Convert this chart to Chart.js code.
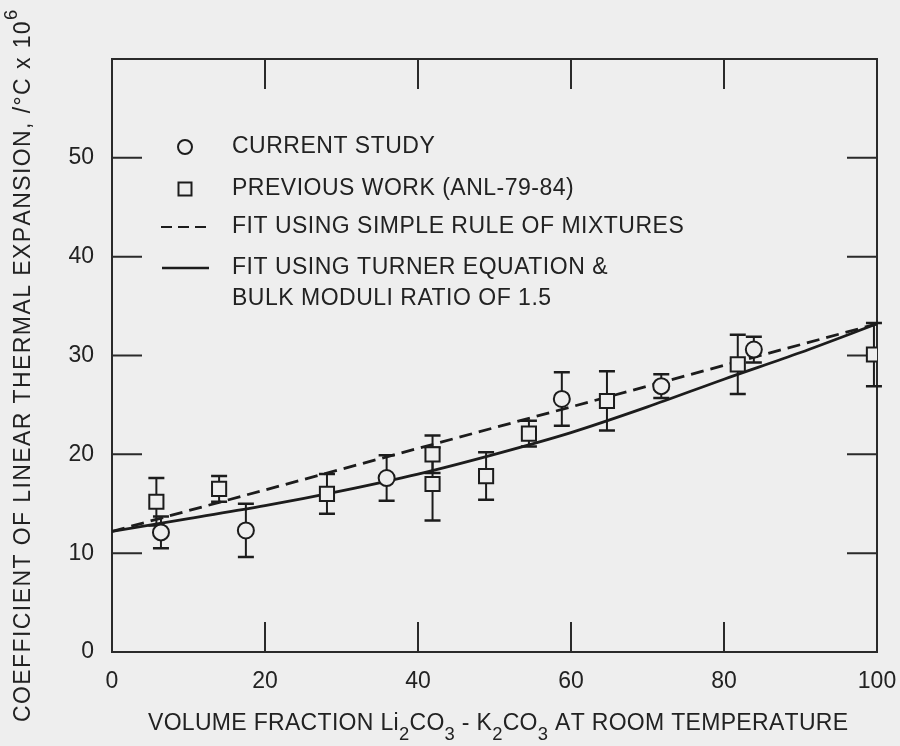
<!DOCTYPE html>
<html><head><meta charset="utf-8">
<script src="https://cdn.jsdelivr.net/npm/chart.js@4.4.0/dist/chart.umd.min.js"></script>
<style>html,body{margin:0;padding:0;background:#eeeeee;}</style>
</head><body>
<canvas id="c" width="900" height="746"></canvas>
<script>
// ---- data ----
const xTickValues = [0, 20, 40, 60, 80, 100];
const yTickValues = [0, 10, 20, 30, 40, 50];
const currentX   = [6.4, 17.5, 35.9, 58.8, 71.8, 83.9];
const currentY   = [12.1, 12.3, 17.6, 25.6, 26.9, 30.6];
const currentErr = [1.6, 2.7, 2.3, 2.7, 1.2, 1.3];
const previousX   = [5.8, 14.0, 28.1, 41.9, 41.9, 48.9, 54.5, 64.7, 81.8, 99.6];
const previousY   = [15.2, 16.5, 16.0, 20.0, 17.0, 17.8, 22.1, 25.4, 29.1, 30.1];
const previousErr = [2.4, 1.3, 2.0, 1.9, 3.7, 2.4, 1.3, 3.0, 3.0, 3.2];
const mixturesX = [0, 100];
const mixturesY = [12.2, 33.2];
const turnerX = [0, 10, 20, 30, 40, 50, 60, 70, 80, 90, 100];
const turnerY = [12.2, 13.5, 14.8, 16.3, 18.0, 20.0, 22.2, 24.8, 27.6, 30.3, 33.2];
const seriesNames = ['CURRENT STUDY', 'PREVIOUS WORK (ANL-79-84)',
  'FIT USING SIMPLE RULE OF MIXTURES', 'FIT USING TURNER EQUATION &', 'BULK MODULI RATIO OF 1.5'];
// axis titles as [text, kind] runs: kind 0 normal, 1 subscript, 2 superscript
const xTitleRuns = [['VOLUME FRACTION Li', 0], ['2', 1], ['CO', 0], ['3', 1], [' - K', 0], ['2', 1],
  ['CO', 0], ['3', 1], [' AT ROOM TEMPERATURE', 0]];
const yTitleRuns = [['COEFFICIENT OF LINEAR THERMAL EXPANSION, /\u00B0C x 10', 0], ['6', 2]];

const INK = '#1c1c1c';
const BG = '#eeeeee';
const FONT = '"Liberation Sans", Arial, sans-serif';
const pts = (X, Y) => X.map((x, i) => ({x: x, y: Y[i]}));

const bgPlugin = {
  id: 'bg',
  beforeDraw(chart) {
    const c = chart.ctx; c.save(); c.fillStyle = BG; c.fillRect(0, 0, chart.width, chart.height); c.restore();
  }
};

const framePlugin = {
  id: 'frame',
  beforeDatasetsDraw(chart) {
    const c = chart.ctx, a = chart.chartArea, xs = chart.scales.x, ys = chart.scales.y;
    c.save();
    c.strokeStyle = '#2a2a2a'; c.lineWidth = 2;
    c.strokeRect(a.left, a.top, a.right - a.left, a.bottom - a.top);
    const L = 30;
    c.beginPath();
    xs.ticks.forEach(t => {
      if (t.value <= xs.min || t.value >= xs.max) return;
      const p = xs.getPixelForValue(t.value);
      c.moveTo(p, a.bottom); c.lineTo(p, a.bottom - L);
      c.moveTo(p, a.top); c.lineTo(p, a.top + L);
    });
    ys.ticks.forEach(t => {
      if (t.value <= ys.min || t.value >= ys.max) return;
      const p = ys.getPixelForValue(t.value);
      c.moveTo(a.left, p); c.lineTo(a.left + L, p);
      c.moveTo(a.right, p); c.lineTo(a.right - L, p);
    });
    c.stroke();
    // error bars
    c.strokeStyle = INK;
    [[currentX, currentY, currentErr], [previousX, previousY, previousErr]].forEach(([X, Y, E]) => {
      X.forEach((xv, i) => {
        const px = xs.getPixelForValue(xv);
        const top = ys.getPixelForValue(Y[i] + E[i]);
        const bot = ys.getPixelForValue(Y[i] - E[i]);
        c.lineWidth = 2;
        c.beginPath(); c.moveTo(px, top); c.lineTo(px, bot); c.stroke();
        c.lineWidth = 2.5;
        c.beginPath();
        c.moveTo(px - 8, top); c.lineTo(px + 8, top);
        c.moveTo(px - 8, bot); c.lineTo(px + 8, bot);
        c.stroke();
      });
    });
    c.restore();
  }
};

function drawRuns(c, runs, size, targetLen) {
  // measure, then spread letters to reach target length
  const sub = size * 0.8;
  let n = 0, w = 0;
  runs.forEach(([t, k]) => { c.font = (k ? sub : size) + 'px ' + FONT; w += c.measureText(t).width; n += t.length; });
  const sp = Math.max(0, (targetLen - w) / n);
  let x = -targetLen / 2;
  c.textBaseline = 'alphabetic'; c.textAlign = 'left';
  runs.forEach(([t, k]) => {
    for (const ch of t) {
      c.font = (k ? sub : size) + 'px ' + FONT;
      const dy = k === 1 ? size * 0.42 : (k === 2 ? -size * 0.55 : 0);
      c.fillText(ch, x, dy);
      x += c.measureText(ch).width + sp;
    }
  });
}

const titlePlugin = {
  id: 'titles',
  afterDraw(chart) {
    const c = chart.ctx;
    c.save();
    c.fillStyle = '#222';
    // x title: spans ~148..845, cap centre ~722
    c.save(); c.translate(496.5, 730); drawRuns(c, xTitleRuns, 23, 697); c.restore();
    // y title: rotated, spans ~y 722..8, centre x ~22
    c.save(); c.translate(30, 366); c.rotate(-Math.PI / 2); drawRuns(c, yTitleRuns, 23, 712); c.restore();
    c.restore();
  }
};

const legendPlugin = {
  id: 'innerLegend',
  afterDraw(chart) {
    const c = chart.ctx;
    c.save();
    c.font = '23px ' + FONT;
    if ('letterSpacing' in c) c.letterSpacing = '0.5px';
    c.fillStyle = '#222'; c.textBaseline = 'middle'; c.textAlign = 'left';
    const tx = 232, sx = 185;
    const rows = [147, 189, 227, 268, 299];
    seriesNames.forEach((s, i) => c.fillText(s, tx, rows[i]));
    c.strokeStyle = INK; c.lineWidth = 2;
    c.beginPath(); c.arc(sx, rows[0], 7, 0, Math.PI * 2); c.stroke();
    c.strokeRect(sx - 6.5, rows[1] - 6.5, 13, 13);
    c.setLineDash([11, 6]);
    c.beginPath(); c.moveTo(161, rows[2]); c.lineTo(209, rows[2]); c.stroke();
    c.setLineDash([]);
    c.lineWidth = 2.5;
    c.beginPath(); c.moveTo(162, rows[3]); c.lineTo(209, rows[3]); c.stroke();
    c.restore();
  }
};

new Chart(document.getElementById('c'), {
  type: 'scatter',
  data: {
    datasets: [
      { label: seriesNames[0], data: pts(currentX, currentY), showLine: false,
        pointStyle: 'circle', pointRadius: 8, pointBackgroundColor: BG,
        pointBorderColor: INK, pointBorderWidth: 2 },
      { label: seriesNames[1], data: pts(previousX, previousY), showLine: false,
        pointStyle: 'rect', pointRadius: 10, pointBackgroundColor: BG,
        pointBorderColor: INK, pointBorderWidth: 2 },
      { label: seriesNames[2], data: pts(mixturesX, mixturesY), showLine: true,
        pointRadius: 0, borderColor: INK, borderWidth: 2.8, borderDash: [13, 7] },
      { label: seriesNames[3], data: pts(turnerX, turnerY), showLine: true,
        pointRadius: 0, borderColor: INK, borderWidth: 2.8, cubicInterpolationMode: 'monotone' }
    ]
  },
  options: {
    responsive: false, animation: false, devicePixelRatio: 1,
    layout: { padding: { left: 0, right: 23, top: 59, bottom: 0 } },
    plugins: { legend: { display: false }, tooltip: { enabled: false } },
    scales: {
      x: {
        type: 'linear', min: 0, max: 100,
        afterFit(s) { s.height = 94; s.paddingRight = 0; s.paddingLeft = 0; },
        afterBuildTicks(s) { s.ticks = xTickValues.map(v => ({value: v})); },
        grid: { display: false }, border: { display: false },
        ticks: { padding: 8, color: '#222', font: { family: FONT, size: 23 } },
        title: { display: false }
      },
      y: {
        type: 'linear', min: 0, max: 60,
        afterFit(s) { s.width = 112; s.paddingTop = 0; s.paddingBottom = 0; },
        afterBuildTicks(s) { s.ticks = yTickValues.map(v => ({value: v})); },
        grid: { display: false }, border: { display: false },
        ticks: { padding: 10, color: '#222', font: { family: FONT, size: 23 } },
        title: { display: false }
      }
    }
  },
  plugins: [bgPlugin, framePlugin, legendPlugin, titlePlugin]
});
</script>
</body></html>
